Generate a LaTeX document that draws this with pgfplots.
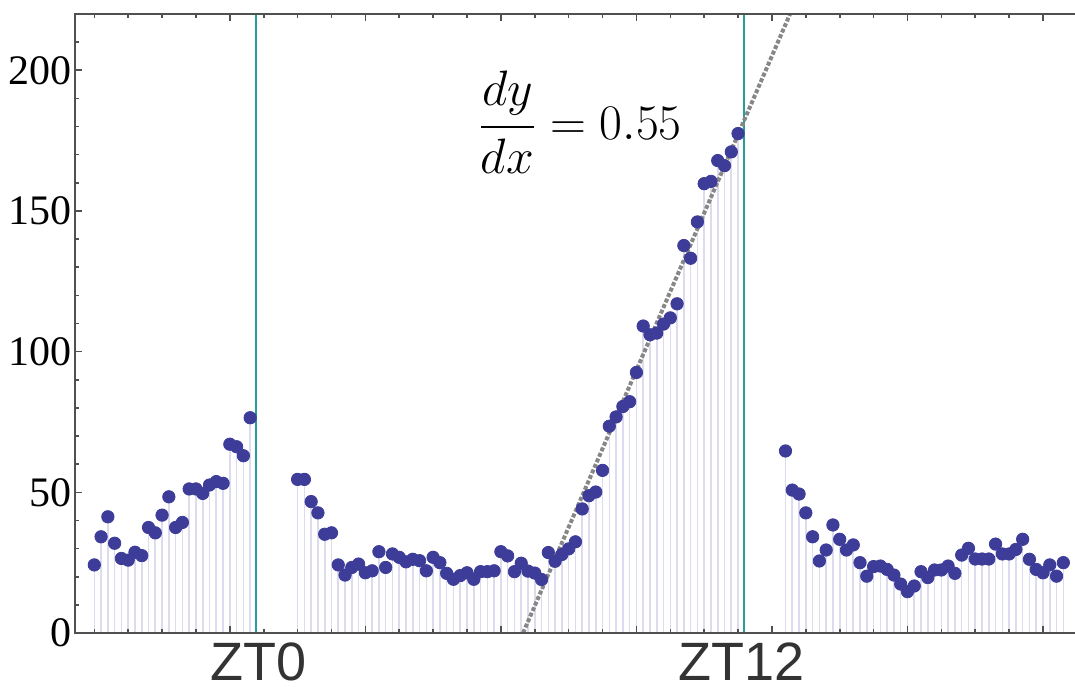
\documentclass[border=0pt]{standalone}
\usepackage{amsmath}
\usepackage{fontspec}
\setmainfont{Liberation Serif}
\newfontfamily\ztfont{Liberation Sans}
\usepackage{pgfplots}
\pgfplotsset{compat=1.18}
\usepackage{pgfplotstable}
\usetikzlibrary{calc}
\definecolor{dotc}{RGB}{61,61,153}
\definecolor{stemc}{RGB}{220,220,238}
\definecolor{tealc}{RGB}{40,155,155}
\definecolor{fitc}{RGB}{135,135,135}
\definecolor{axc}{RGB}{80,80,80}
\definecolor{ztc}{RGB}{51,51,51}
\pgfplotstableread{
x y
0 24.2
1 34.2
2 41.3
3 31.9
4 26.5
5 25.9
6 28.7
7 27.5
8 37.5
9 35.6
10 41.9
11 48.4
12 37.5
13 39.3
14 51.2
15 51.2
16 49.6
17 52.6
18 53.8
19 53.2
20 67.1
21 66.2
22 63.0
23 76.5
30 54.6
31 54.6
32 46.7
33 42.7
34 35.1
35 35.6
36 24.2
37 20.6
38 23.3
39 24.5
40 21.4
41 22.1
42 28.9
43 23.3
44 28.1
45 26.9
46 25.3
47 26.2
48 25.7
49 22.1
50 26.9
51 25.0
52 21.2
53 19.1
54 20.4
55 21.4
56 19.1
57 21.8
58 21.8
59 22.1
60 28.9
61 27.4
62 21.8
63 24.8
64 22.0
65 21.3
66 19.0
67 28.6
68 25.5
69 27.9
70 29.9
71 32.4
72 44.1
73 48.8
74 50.1
75 57.8
76 73.5
77 76.8
78 80.5
79 82.2
80 92.6
81 109.1
82 106.0
83 106.6
84 109.8
85 112.0
86 117.0
87 137.7
88 133.2
89 146.1
90 159.7
91 160.5
92 167.9
93 166.1
94 171.0
95 177.5
102 64.7
103 50.8
104 49.4
105 42.7
106 34.2
107 25.6
108 29.5
109 38.4
110 33.3
111 29.5
112 31.3
113 25.0
114 20.2
115 23.6
116 23.8
117 22.6
118 20.6
119 17.4
120 14.7
121 16.7
122 21.8
123 19.7
124 22.4
125 22.4
126 23.8
127 21.2
128 27.7
129 30.1
130 26.3
131 26.3
132 26.3
133 31.6
134 28.1
135 28.1
136 29.7
137 33.3
138 26.2
139 22.6
140 21.4
141 24.2
142 20.2
143 25.0
}\datatable
\begin{document}
\begin{tikzpicture}
\begin{axis}[
  scale only axis,
  width=505pt, height=309.5pt,
  xmin=-2.85, xmax=146.2,
  ymin=0, ymax=220,
  axis line style={draw=axc, line width=1pt},
  axis on top,
  clip=false,
  tick align=inside,
  xtick={20,40,60,80,100,120,140},
  minor xtick={0,5,...,145},
  xticklabel=\empty,
  ytick={0,50,100,150,200},
  minor ytick={10,20,30,40,60,70,80,90,110,120,130,140,160,170,180,190,210},
  major tick length=3.5pt, minor tick length=2pt,
  tick style={draw=axc, line width=0.8pt},
  ytick pos=left,
  /pgf/number format/assume math mode=true,
  tick label style={font=\fontsize{21}{25}\selectfont, text=black},
  yticklabel style={xshift=2pt},
]
\addplot[ycomb, draw=stemc, line width=0.8pt, forget plot] table[x=x,y=y]{\datatable};
\addplot[only marks, mark=*, mark size=3.1pt, mark options={draw=dotc, fill=dotc}] table[x=x,y=y]{\datatable};
\addplot[tealc, line width=1pt] coordinates {(23.86,0) (23.86,220)};
\addplot[tealc, line width=1pt] coordinates {(95.86,0) (95.86,220)};
\addplot[fitc, line width=2pt, dash pattern=on 2pt off 1pt] coordinates {(63.27,0) (102.67,220)};
\node[font=\fontsize{25}{30}\selectfont, anchor=center] at (axis cs:71.7,181.5) {$\dfrac{dy}{dx} = 0.55$};
\node[font=\ztfont\fontsize{27}{32}\selectfont, text=ztc, anchor=base] at (axis cs:24.16,0) [yshift=-23.5pt] {ZT0};
\node[font=\ztfont\fontsize{27}{32}\selectfont, text=ztc, anchor=base] at (axis cs:95.55,0) [yshift=-23.5pt] {ZT12};
\coordinate (ll) at (rel axis cs:0,0);
\coordinate (ur) at (rel axis cs:0,1);
\end{axis}
\pgfresetboundingbox
\path[use as bounding box] ($(ll)+(-37.5pt,-26.5pt)$) rectangle ($(ur)+(500pt,7pt)$);
\end{tikzpicture}
\end{document}
